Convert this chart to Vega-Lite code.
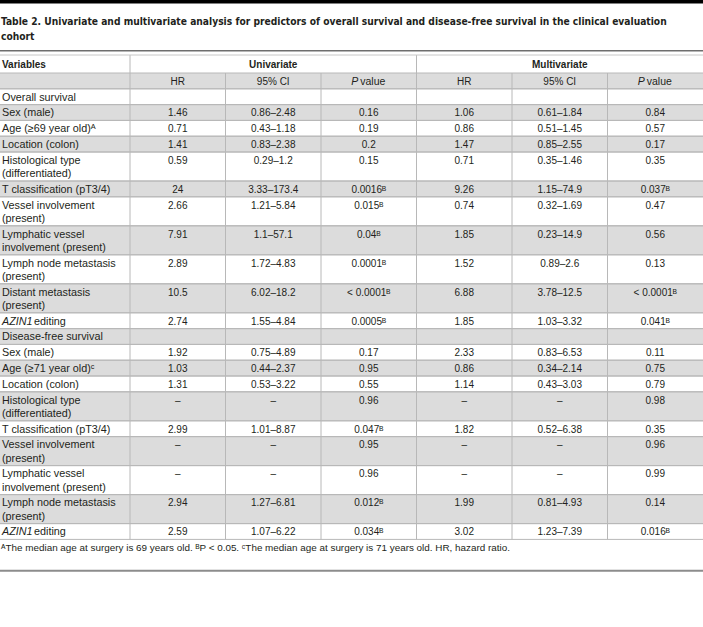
{
  "$schema": "https://vega.github.io/schema/vega-lite/v6.json",
  "width": 703,
  "height": 627,
  "padding": 0,
  "autosize": {"type": "none"},
  "background": "white",
  "config": {
    "view": {"stroke": null},
    "text": {"font": "Liberation Sans", "color": "#231f20"}
  },
  "datasets": {
    "rows": [
      {"row": 1, "variable": "", "uni_hr": "HR", "uni_ci": "95% CI", "uni_p": "P value", "multi_hr": "HR", "multi_ci": "95% CI", "multi_p": "P value"},
      {"row": 2, "variable": "Overall survival"},
      {"row": 3, "variable": "Sex (male)", "uni_hr": "1.46", "uni_ci": "0.86–2.48", "uni_p": "0.16", "multi_hr": "1.06", "multi_ci": "0.61–1.84", "multi_p": "0.84"},
      {"row": 4, "variable": "Age (≥69 year old)ᴬ", "uni_hr": "0.71", "uni_ci": "0.43–1.18", "uni_p": "0.19", "multi_hr": "0.86", "multi_ci": "0.51–1.45", "multi_p": "0.57"},
      {"row": 5, "variable": "Location (colon)", "uni_hr": "1.41", "uni_ci": "0.83–2.38", "uni_p": "0.2", "multi_hr": "1.47", "multi_ci": "0.85–2.55", "multi_p": "0.17"},
      {"row": 6, "variable": ["Histological type", "(differentiated)"], "uni_hr": "0.59", "uni_ci": "0.29–1.2", "uni_p": "0.15", "multi_hr": "0.71", "multi_ci": "0.35–1.46", "multi_p": "0.35"},
      {"row": 7, "variable": "T classification (pT3/4)", "uni_hr": "24", "uni_ci": "3.33–173.4", "uni_p": "0.0016ᴮ", "multi_hr": "9.26", "multi_ci": "1.15–74.9", "multi_p": "0.037ᴮ"},
      {"row": 8, "variable": ["Vessel involvement", "(present)"], "uni_hr": "2.66", "uni_ci": "1.21–5.84", "uni_p": "0.015ᴮ", "multi_hr": "0.74", "multi_ci": "0.32–1.69", "multi_p": "0.47"},
      {"row": 9, "variable": ["Lymphatic vessel", "involvement (present)"], "uni_hr": "7.91", "uni_ci": "1.1–57.1", "uni_p": "0.04ᴮ", "multi_hr": "1.85", "multi_ci": "0.23–14.9", "multi_p": "0.56"},
      {"row": 10, "variable": ["Lymph node metastasis", "(present)"], "uni_hr": "2.89", "uni_ci": "1.72–4.83", "uni_p": "0.0001ᴮ", "multi_hr": "1.52", "multi_ci": "0.89–2.6", "multi_p": "0.13"},
      {"row": 11, "variable": ["Distant metastasis", "(present)"], "uni_hr": "10.5", "uni_ci": "6.02–18.2", "uni_p": "< 0.0001ᴮ", "multi_hr": "6.88", "multi_ci": "3.78–12.5", "multi_p": "< 0.0001ᴮ"},
      {"row": 12, "gene": "AZIN1", "variable": "editing", "uni_hr": "2.74", "uni_ci": "1.55–4.84", "uni_p": "0.0005ᴮ", "multi_hr": "1.85", "multi_ci": "1.03–3.32", "multi_p": "0.041ᴮ"},
      {"row": 13, "variable": "Disease-free survival"},
      {"row": 14, "variable": "Sex (male)", "uni_hr": "1.92", "uni_ci": "0.75–4.89", "uni_p": "0.17", "multi_hr": "2.33", "multi_ci": "0.83–6.53", "multi_p": "0.11"},
      {"row": 15, "variable": "Age (≥71 year old)ᶜ", "uni_hr": "1.03", "uni_ci": "0.44–2.37", "uni_p": "0.95", "multi_hr": "0.86", "multi_ci": "0.34–2.14", "multi_p": "0.75"},
      {"row": 16, "variable": "Location (colon)", "uni_hr": "1.31", "uni_ci": "0.53–3.22", "uni_p": "0.55", "multi_hr": "1.14", "multi_ci": "0.43–3.03", "multi_p": "0.79"},
      {"row": 17, "variable": ["Histological type", "(differentiated)"], "uni_hr": "–", "uni_ci": "–", "uni_p": "0.96", "multi_hr": "–", "multi_ci": "–", "multi_p": "0.98"},
      {"row": 18, "variable": "T classification (pT3/4)", "uni_hr": "2.99", "uni_ci": "1.01–8.87", "uni_p": "0.047ᴮ", "multi_hr": "1.82", "multi_ci": "0.52–6.38", "multi_p": "0.35"},
      {"row": 19, "variable": ["Vessel involvement", "(present)"], "uni_hr": "–", "uni_ci": "–", "uni_p": "0.95", "multi_hr": "–", "multi_ci": "–", "multi_p": "0.96"},
      {"row": 20, "variable": ["Lymphatic vessel", "involvement (present)"], "uni_hr": "–", "uni_ci": "–", "uni_p": "0.96", "multi_hr": "–", "multi_ci": "–", "multi_p": "0.99"},
      {"row": 21, "variable": ["Lymph node metastasis", "(present)"], "uni_hr": "2.94", "uni_ci": "1.27–6.81", "uni_p": "0.012ᴮ", "multi_hr": "1.99", "multi_ci": "0.81–4.93", "multi_p": "0.14"},
      {"row": 22, "gene": "AZIN1", "variable": "editing", "uni_hr": "2.59", "uni_ci": "1.07–6.22", "uni_p": "0.034ᴮ", "multi_hr": "3.02", "multi_ci": "1.23–7.39", "multi_p": "0.016ᴮ"}
    ],
    "header": [
      {"label": "Variables", "first": 0, "last": 0},
      {"label": "Univariate", "first": 1, "last": 3},
      {"label": "Multivariate", "first": 4, "last": 6}
    ],
    "notes": [
      {"part": "title", "line": 1, "text": "Table 2. Univariate and multivariate analysis for predictors of overall survival and disease-free survival in the clinical evaluation"},
      {"part": "title", "line": 2, "text": "cohort"},
      {"part": "footnote", "line": 1, "text": "ᴬThe median age at surgery is 69 years old. ᴮP < 0.05. ᶜThe median age at surgery is 71 years old. HR, hazard ratio."}
    ]
  },
  "layer": [
    {
      "data": {"name": "rows"},
      "transform": [
        {"calculate": "isArray(datum.variable) ? length(datum.variable) : 1", "as": "nlines"},
        {"window": [{"op": "sum", "field": "nlines", "as": "cumLines"}, {"op": "row_number", "as": "rn"}], "sort": [{"field": "row"}], "frame": [null, 0]},
        {"calculate": "73 + 13.2*(datum.cumLines - datum.nlines) + 2.6*(datum.rn - 1)", "as": "top"},
        {"calculate": "datum.top + 13.2*datum.nlines + 2.6", "as": "bottom"},
        {"filter": "datum.rn % 2 == 1"}
      ],
      "mark": {"type": "rect", "color": "#dcdcdc"},
      "encoding": {
        "x": {"datum": 0, "type": "quantitative", "scale": {"domain": [0, 703], "nice": false, "zero": false}, "axis": null},
        "x2": {"datum": 703},
        "y": {"field": "top", "type": "quantitative", "scale": {"domain": [0, 627], "nice": false, "zero": false, "reverse": true}, "axis": null},
        "y2": {"field": "bottom"}
      }
    },
    {
      "data": {"name": "rows"},
      "transform": [
        {"calculate": "isArray(datum.variable) ? length(datum.variable) : 1", "as": "nlines"},
        {"window": [{"op": "sum", "field": "nlines", "as": "cumLines"}, {"op": "row_number", "as": "rn"}], "sort": [{"field": "row"}], "frame": [null, 0]},
        {"calculate": "73 + 13.2*(datum.cumLines - datum.nlines) + 2.6*(datum.rn - 1)", "as": "top"},
        {"calculate": "datum.top + 13.2*datum.nlines + 2.6", "as": "bottom"},
        {"fold": ["top", "bottom"], "as": ["edge", "ypos"]}
      ],
      "mark": {"type": "rule", "color": "#b8b8b8", "strokeWidth": 1},
      "encoding": {
        "x": {"datum": 0, "type": "quantitative", "scale": {"domain": [0, 703], "nice": false, "zero": false}, "axis": null},
        "x2": {"datum": 703},
        "y": {"field": "ypos", "type": "quantitative", "scale": {"domain": [0, 627], "nice": false, "zero": false, "reverse": true}, "axis": null}
      }
    },
    {
      "data": {"name": "rows"},
      "transform": [
        {"calculate": "isArray(datum.variable) ? length(datum.variable) : 1", "as": "nlines"},
        {"window": [{"op": "sum", "field": "nlines", "as": "cumLines"}, {"op": "row_number", "as": "rn"}], "sort": [{"field": "row"}], "frame": [null, 0]},
        {"calculate": "73 + 13.2*(datum.cumLines - datum.nlines) + 2.6*(datum.rn - 1)", "as": "top"},
        {"calculate": "datum.top + 13.2*datum.nlines + 2.6", "as": "bottom"},
        {"fold": ["uni_hr", "uni_ci", "uni_p", "multi_hr", "multi_ci", "multi_p"], "as": ["col", "cell"]},
        {"calculate": "indexof(['uni_hr','uni_ci','uni_p','multi_hr','multi_ci','multi_p'], datum.col) + 1", "as": "ci"},
        {"calculate": "130 + 95.5*(datum.ci - 1)", "as": "left"}
      ],
      "mark": {"type": "rule", "color": "#b8b8b8", "strokeWidth": 1},
      "encoding": {
        "x": {"field": "left", "type": "quantitative", "scale": {"domain": [0, 703], "nice": false, "zero": false}, "axis": null},
        "y": {"field": "top", "type": "quantitative", "scale": {"domain": [0, 627], "nice": false, "zero": false, "reverse": true}, "axis": null},
        "y2": {"field": "bottom"}
      }
    },
    {
      "data": {"name": "header"},
      "transform": [
        {"filter": "datum.first > 0"},
        {"calculate": "130 + 95.5*(datum.first - 1)", "as": "left"},
        {"calculate": "55", "as": "top"},
        {"calculate": "73", "as": "bottom"}
      ],
      "mark": {"type": "rule", "color": "#b8b8b8", "strokeWidth": 1},
      "encoding": {
        "x": {"field": "left", "type": "quantitative", "scale": {"domain": [0, 703], "nice": false, "zero": false}, "axis": null},
        "y": {"field": "top", "type": "quantitative", "scale": {"domain": [0, 627], "nice": false, "zero": false, "reverse": true}, "axis": null},
        "y2": {"field": "bottom"}
      }
    },
    {
      "data": {"values": [{}]},
      "mark": {"type": "rect", "color": "#000000"},
      "encoding": {
        "x": {"datum": 0, "type": "quantitative", "scale": {"domain": [0, 703], "nice": false, "zero": false}, "axis": null},
        "x2": {"datum": 703},
        "y": {"datum": 0, "type": "quantitative", "scale": {"domain": [0, 627], "nice": false, "zero": false, "reverse": true}, "axis": null},
        "y2": {"datum": 3.4}
      }
    },
    {
      "data": {"values": [{}]},
      "mark": {"type": "rule", "color": "#6e6e6e", "strokeWidth": 1.5},
      "encoding": {
        "x": {"datum": 0, "type": "quantitative", "scale": {"domain": [0, 703], "nice": false, "zero": false}, "axis": null},
        "x2": {"datum": 703},
        "y": {"datum": 50.7, "type": "quantitative", "scale": {"domain": [0, 627], "nice": false, "zero": false, "reverse": true}, "axis": null}
      }
    },
    {
      "data": {"values": [{}]},
      "mark": {"type": "rule", "color": "#c8c8c8", "strokeWidth": 1},
      "encoding": {
        "x": {"datum": 0, "type": "quantitative", "scale": {"domain": [0, 703], "nice": false, "zero": false}, "axis": null},
        "x2": {"datum": 703},
        "y": {"datum": 55, "type": "quantitative", "scale": {"domain": [0, 627], "nice": false, "zero": false, "reverse": true}, "axis": null}
      }
    },
    {
      "data": {"values": [{}]},
      "mark": {"type": "rule", "color": "#8c8c8c", "strokeWidth": 2},
      "encoding": {
        "x": {"datum": 0, "type": "quantitative", "scale": {"domain": [0, 703], "nice": false, "zero": false}, "axis": null},
        "x2": {"datum": 703},
        "y": {"datum": 570.8, "type": "quantitative", "scale": {"domain": [0, 627], "nice": false, "zero": false, "reverse": true}, "axis": null}
      }
    },
    {
      "data": {"name": "header"},
      "transform": [
        {"calculate": "datum.first == 0 ? 2 : (130 + 95.5*(datum.first - 1) + 130 + 95.5*datum.last) / 2", "as": "xpos"},
        {"calculate": "68", "as": "base"}
      ],
      "layer": [
        {
          "transform": [{"filter": "datum.first == 0"}],
          "mark": {"type": "text", "align": "left", "baseline": "alphabetic", "fontSize": 10, "fontWeight": "bold"},
          "encoding": {
            "x": {"field": "xpos", "type": "quantitative", "scale": {"domain": [0, 703], "nice": false, "zero": false}, "axis": null},
            "y": {"field": "base", "type": "quantitative", "scale": {"domain": [0, 627], "nice": false, "zero": false, "reverse": true}, "axis": null},
            "text": {"field": "label"}
          }
        },
        {
          "transform": [{"filter": "datum.first > 0"}],
          "mark": {"type": "text", "align": "center", "baseline": "alphabetic", "fontSize": 10, "fontWeight": "bold"},
          "encoding": {
            "x": {"field": "xpos", "type": "quantitative", "scale": {"domain": [0, 703], "nice": false, "zero": false}, "axis": null},
            "y": {"field": "base", "type": "quantitative", "scale": {"domain": [0, 627], "nice": false, "zero": false, "reverse": true}, "axis": null},
            "text": {"field": "label"}
          }
        }
      ]
    },
    {
      "data": {"name": "rows"},
      "transform": [
        {"calculate": "isArray(datum.variable) ? length(datum.variable) : 1", "as": "nlines"},
        {"window": [{"op": "sum", "field": "nlines", "as": "cumLines"}, {"op": "row_number", "as": "rn"}], "sort": [{"field": "row"}], "frame": [null, 0]},
        {"calculate": "73 + 13.2*(datum.cumLines - datum.nlines) + 2.6*(datum.rn - 1)", "as": "top"},
        {"calculate": "datum.top + 11.8", "as": "base"},
        {"calculate": "2", "as": "xpos"}
      ],
      "layer": [
        {
          "transform": [{"filter": "!datum.gene"}],
          "mark": {"type": "text", "align": "left", "baseline": "alphabetic", "fontSize": 10.8, "lineHeight": 13.2},
          "encoding": {
            "x": {"field": "xpos", "type": "quantitative", "scale": {"domain": [0, 703], "nice": false, "zero": false}, "axis": null},
            "y": {"field": "base", "type": "quantitative", "scale": {"domain": [0, 627], "nice": false, "zero": false, "reverse": true}, "axis": null},
            "text": {"field": "variable"}
          }
        },
        {
          "transform": [{"filter": "datum.gene"}],
          "mark": {"type": "text", "align": "left", "baseline": "alphabetic", "fontSize": 10.8, "fontStyle": "italic"},
          "encoding": {
            "x": {"field": "xpos", "type": "quantitative", "scale": {"domain": [0, 703], "nice": false, "zero": false}, "axis": null},
            "y": {"field": "base", "type": "quantitative", "scale": {"domain": [0, 627], "nice": false, "zero": false, "reverse": true}, "axis": null},
            "text": {"field": "gene"}
          }
        },
        {
          "transform": [{"filter": "datum.gene"}],
          "mark": {"type": "text", "align": "left", "baseline": "alphabetic", "fontSize": 10.8, "dx": 32},
          "encoding": {
            "x": {"field": "xpos", "type": "quantitative", "scale": {"domain": [0, 703], "nice": false, "zero": false}, "axis": null},
            "y": {"field": "base", "type": "quantitative", "scale": {"domain": [0, 627], "nice": false, "zero": false, "reverse": true}, "axis": null},
            "text": {"field": "variable"}
          }
        }
      ]
    },
    {
      "data": {"name": "rows"},
      "transform": [
        {"calculate": "isArray(datum.variable) ? length(datum.variable) : 1", "as": "nlines"},
        {"window": [{"op": "sum", "field": "nlines", "as": "cumLines"}, {"op": "row_number", "as": "rn"}], "sort": [{"field": "row"}], "frame": [null, 0]},
        {"calculate": "73 + 13.2*(datum.cumLines - datum.nlines) + 2.6*(datum.rn - 1)", "as": "top"},
        {"calculate": "datum.top + 11.8", "as": "base"},
        {"fold": ["uni_hr", "uni_ci", "uni_p", "multi_hr", "multi_ci", "multi_p"], "as": ["col", "cell"]},
        {"filter": "datum.cell != null && datum.cell !== ''"},
        {"calculate": "indexof(['uni_hr','uni_ci','uni_p','multi_hr','multi_ci','multi_p'], datum.col) + 1", "as": "ci"},
        {"calculate": "130 + 95.5*(datum.ci - 1) + 47.75", "as": "cx"},
        {"calculate": "split(datum.cell, ' ')", "as": "parts"},
        {"calculate": "datum.parts[0]", "as": "first"},
        {"calculate": "datum.parts[1]", "as": "second"}
      ],
      "layer": [
        {
          "transform": [{"filter": "datum.cell !== 'P value'"}],
          "mark": {"type": "text", "align": "center", "baseline": "alphabetic", "fontSize": 10},
          "encoding": {
            "x": {"field": "cx", "type": "quantitative", "scale": {"domain": [0, 703], "nice": false, "zero": false}, "axis": null},
            "y": {"field": "base", "type": "quantitative", "scale": {"domain": [0, 627], "nice": false, "zero": false, "reverse": true}, "axis": null},
            "text": {"field": "cell"}
          }
        },
        {
          "transform": [{"filter": "datum.cell === 'P value'"}],
          "mark": {"type": "text", "align": "left", "baseline": "alphabetic", "fontSize": 10.5, "fontStyle": "italic", "dx": -17.5},
          "encoding": {
            "x": {"field": "cx", "type": "quantitative", "scale": {"domain": [0, 703], "nice": false, "zero": false}, "axis": null},
            "y": {"field": "base", "type": "quantitative", "scale": {"domain": [0, 627], "nice": false, "zero": false, "reverse": true}, "axis": null},
            "text": {"field": "first"}
          }
        },
        {
          "transform": [{"filter": "datum.cell === 'P value'"}],
          "mark": {"type": "text", "align": "left", "baseline": "alphabetic", "fontSize": 10.5, "dx": -8.5},
          "encoding": {
            "x": {"field": "cx", "type": "quantitative", "scale": {"domain": [0, 703], "nice": false, "zero": false}, "axis": null},
            "y": {"field": "base", "type": "quantitative", "scale": {"domain": [0, 627], "nice": false, "zero": false, "reverse": true}, "axis": null},
            "text": {"field": "second"}
          }
        }
      ]
    },
    {
      "data": {"name": "notes"},
      "transform": [
        {"calculate": "datum.part === 'title' ? 9.8 + 15.3*datum.line : 550.5", "as": "base"},
        {"calculate": "1", "as": "xpos"}
      ],
      "layer": [
        {
          "transform": [{"filter": "datum.part === 'title'"}],
          "mark": {"type": "text", "align": "left", "baseline": "alphabetic", "fontSize": 10.2, "fontWeight": "bold", "font": "DejaVu Sans Condensed"},
          "encoding": {
            "x": {"field": "xpos", "type": "quantitative", "scale": {"domain": [0, 703], "nice": false, "zero": false}, "axis": null},
            "y": {"field": "base", "type": "quantitative", "scale": {"domain": [0, 627], "nice": false, "zero": false, "reverse": true}, "axis": null},
            "text": {"field": "text"}
          }
        },
        {
          "transform": [{"filter": "datum.part === 'footnote'"}],
          "mark": {"type": "text", "align": "left", "baseline": "alphabetic", "fontSize": 9.9},
          "encoding": {
            "x": {"field": "xpos", "type": "quantitative", "scale": {"domain": [0, 703], "nice": false, "zero": false}, "axis": null},
            "y": {"field": "base", "type": "quantitative", "scale": {"domain": [0, 627], "nice": false, "zero": false, "reverse": true}, "axis": null},
            "text": {"field": "text"}
          }
        }
      ]
    }
  ]
}
